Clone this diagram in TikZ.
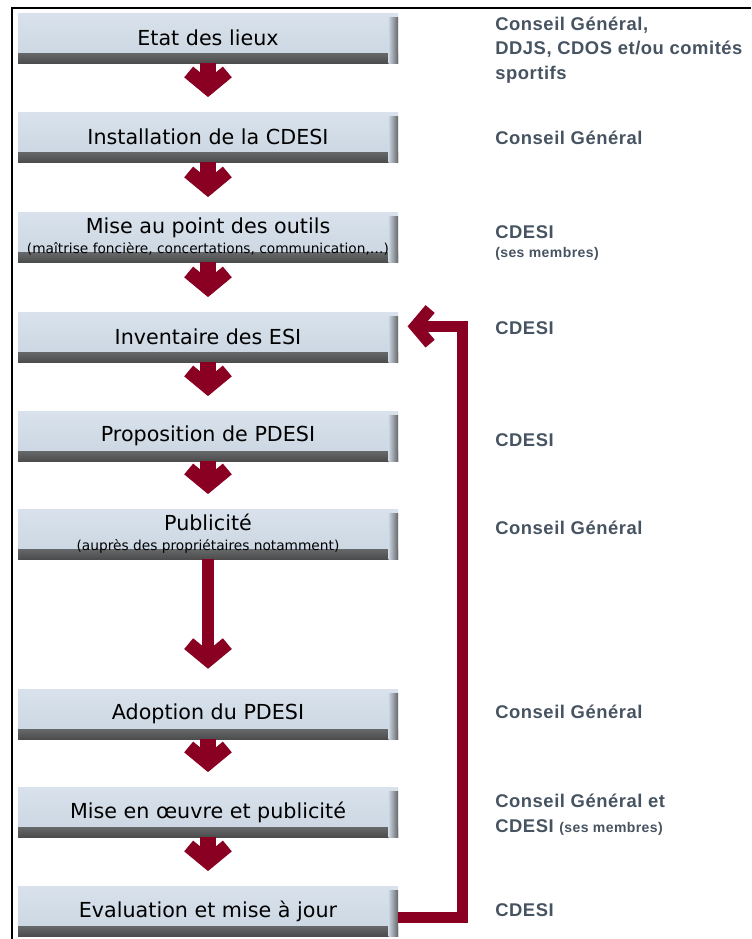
\documentclass[tikz,border=0pt]{standalone}
\usepackage{fontspec}
\setmainfont{DejaVu Sans}
\newfontfamily\whofont[LetterSpace=3]{Liberation Sans}
\usetikzlibrary{arrows.meta}

\definecolor{boxtop}{HTML}{D9E2EC}
\definecolor{boxbot}{HTML}{C9D5E1}
\definecolor{flowred}{HTML}{8A0022}
\definecolor{whogray}{HTML}{465361}

\newcommand{\smallnote}[1]{{\fontsize{10.3}{12}\selectfont #1}}

\tikzset{
  stepbox/.style={minimum width=285pt, minimum height=37.5pt, inner sep=0pt,
    align=center, font=\fontsize{15.5}{18}\selectfont,
    top color=boxtop, bottom color=boxbot,
    path picture={
      \shade[top color=boxbot, middle color=black!45, bottom color=black!70]
        (path picture bounding box.south west) rectangle ([yshift=7.5pt]path picture bounding box.south east);
      \shade[left color=boxbot, right color=black!60]
        ([xshift=-7pt,yshift=-3pt]path picture bounding box.north east) rectangle (path picture bounding box.south east);
    }},
  who/.style={anchor=west, align=left, inner sep=0pt, text=whogray,
    font=\whofont\bfseries\fontsize{13.8}{18.5}\selectfont},
  flowtip/.style={-{Straight Barb[length=12pt, width=29pt, line width=10.5pt]}},
  flow/.style={draw=flowred, line width=11.5pt, flowtip},
  longflow/.style={draw=flowred, line width=9pt, flowtip},
  backflow/.style={draw=flowred, line width=8.25pt,
    -{Straight Barb[length=11pt, width=26pt, line width=9pt]}}
}

\begin{document}
\begin{tikzpicture}[x=0.75pt, y=-0.75pt]
\useasboundingbox (0,0) rectangle (751,939);
% frame
\draw[line width=1.8pt] (12,939) -- (12,8) -- (751,8);

% steps
\foreach \n/\y/\t in {1/38/{Etat des lieux},
                      2/137/{Installation de la CDESI},
                      4/337/{Inventaire des ESI},
                      5/436/{Proposition de PDESI},
                      7/714/{Adoption du PDESI},
                      8/812/{Mise en œuvre et publicité},
                      9/911/{Evaluation et mise à jour}}
  \node[stepbox] (b\n) at (208,\y) {\t};
\node[stepbox] (b3) at (208,237)
  {Mise au point des outils\\[-3pt]\smallnote{(maîtrise foncière, concertations, communication,…)}};
\node[stepbox] (b6) at (208,534)
  {Publicité\\[-3pt]\smallnote{(auprès des propriétaires notamment)}};

% who does it
\node[who] (w1) at (495,50) {Conseil Général,\\DDJS, CDOS et/ou comités\\sportifs};
\node[who] (w2) at (495,138) {Conseil Général};
\node[who] (w3) at (495,243) {CDESI\\[-4pt]{\fontsize{10.5}{12}\selectfont (ses membres)}};
\node[who] (w4) at (495,328) {CDESI};
\node[who] (w5) at (495,440) {CDESI};
\node[who] (w6) at (495,528) {Conseil Général};
\node[who] (w7) at (495,712) {Conseil Général};
\node[who] (w8) at (495,815) {Conseil Général et\\CDESI {\fontsize{10.5}{12}\selectfont (ses membres)}};
\node[who] (w9) at (495,910) {CDESI};

% arrows
\foreach \a/\b in {1/2,2/3,3/4,4/5,5/6,7/8,8/9}
  \draw[flow] (b\a.south) -- ([yshift=11pt]b\b.north);
\draw[longflow] (b6.south) -- ([yshift=15pt]b7.north);
\draw[backflow] ([yshift=-4.5pt]b9.east) -| ([xshift=48pt,yshift=8pt]b4.east)
  -- ([xshift=7pt,yshift=8pt]b4.east);
\end{tikzpicture}
\end{document}
